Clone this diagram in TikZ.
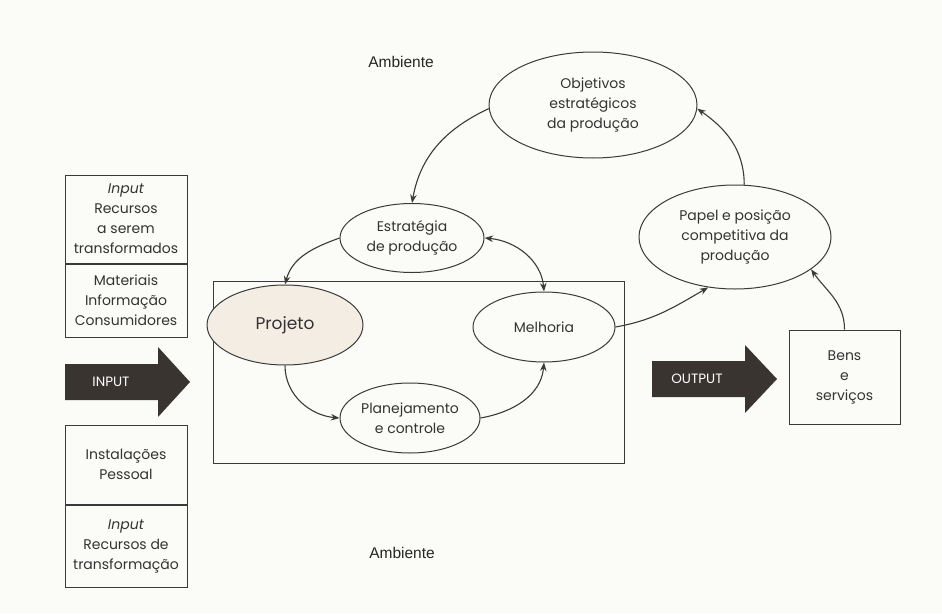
\documentclass[tikz,border=0pt]{standalone}
\usepackage{fontspec}
\setmainfont{Poppins}
\newfontfamily\ambfont{Liberation Sans}
\usetikzlibrary{shapes.geometric,arrows.meta}
\definecolor{linecol}{HTML}{3A3A3A}
\definecolor{txtcol}{HTML}{333333}
\definecolor{arrcol}{HTML}{3A3431}
\definecolor{paper}{HTML}{FBFBF7}
\definecolor{projfill}{HTML}{F4EDE3}
\begin{document}
\begin{tikzpicture}[x=1pt,y=1pt,
  every node/.style={text=txtcol,font=\fontsize{14}{20}\selectfont,align=center},
  >={Stealth[length=8.5pt,width=6.5pt]},
  box/.style={draw=linecol,line width=1pt,inner sep=0pt},
  elli/.style={ellipse,draw=linecol,line width=1pt,inner sep=0pt},
  link/.style={draw=linecol,line width=1.1pt,->},
  bigarrow/.style={fill=arrcol},
  amb/.style={font=\ambfont\fontsize{15.5}{18}\selectfont,text=black!85}]
\useasboundingbox[fill=paper](0,0)rectangle(942,-613);
\pgfmathsetmacro{\bodylen}{93}
\pgfmathsetmacro{\headlen}{32}
\pgfmathsetmacro{\headext}{17}
%
\node[amb](ambTop)at(401,-62){Ambiente};
\node[amb](ambBot)at(402,-553){Ambiente};
%
\node[box,minimum width=122,minimum height=88](inRec)at(126,-219){\textit{Input}\\Recursos\\a serem\\transformados};
\node[box,minimum width=122,minimum height=73,anchor=north](inMat)at(inRec.south){Materiais\\Informação\\Consumidores};
\node[box,minimum width=122,minimum height=79](inInst)at(126,-464.5){Instalações\\Pessoal};
\node[box,minimum width=122,minimum height=82,anchor=north](inTrans)at(inInst.south){\textit{Input}\\Recursos de\\transformação};
%
\fill[bigarrow](65,-364)--++(\bodylen,0)--++(0,\headext)--++(\headlen,-35)--++(-\headlen,-35)--++(0,\headext)--++(-\bodylen,0)--cycle;
\node[text=white,font=\fontsize{13.5}{15}\selectfont](inLbl)at(111,-382){INPUT};
\fill[bigarrow](652,-361)--++(\bodylen,0)--++(0,\headext-1)--++(\headlen,-34)--++(-\headlen,-34)--++(0,\headext-1)--++(-\bodylen,0)--cycle;
\node[text=white,font=\fontsize{13.5}{15}\selectfont](outLbl)at(697,-379){OUTPUT};
%
\node[box,minimum width=411,minimum height=182](proc)at(418.5,-372){};
\node[elli,minimum width=208,minimum height=106](obj)at(593,-105){Objetivos\\estratégicos\\da produção};
\node[elli,minimum width=144,minimum height=69](estr)at(412,-238){Estratégia\\de produção};
\node[elli,fill=projfill,minimum width=156,minimum height=80,font=\fontsize{17}{20}\selectfont](proj)at(285,-325){Projeto};
\node[elli,minimum width=142,minimum height=70](melh)at(544,-327){Melhoria};
\node[elli,minimum width=140,minimum height=70](plan)at(410,-418){Planejamento\\e controle};
\node[elli,minimum width=192,minimum height=104](papel)at(735,-237){Papel e posição\\competitiva da\\produção};
\node[box,minimum width=111,minimum height=94](bens)at(844.5,-377){Bens\\e\\serviços};
%
\draw[link](obj.182)to[out=205,in=80](estr.north);
\draw[link](estr.west)to[out=200,in=75](proj.north);
\draw[link](proj.south)to[out=-90,in=175](plan.west);
\draw[link](plan.east)to[out=10,in=-95](melh.south);
\draw[link,<->](melh.north)to[out=95,in=-5](estr.east);
\draw[link](melh.east)to[out=10,in=210](papel.242);
\draw[link](bens.north)to[out=90,in=-55](papel.337);
\draw[link](papel.80)to[out=90,in=-35](obj.358);
\end{tikzpicture}
\end{document}
